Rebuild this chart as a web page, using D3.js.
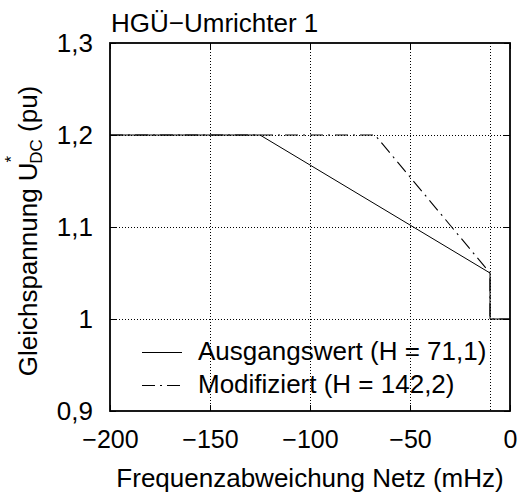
<!DOCTYPE html>
<html>
<head>
<meta charset="utf-8">
<script src="https://cdn.jsdelivr.net/npm/d3@7"></script>
<style>
  html, body { margin: 0; padding: 0; background: #fff; }
  text { font-family: "Liberation Sans", Arial, Helvetica, sans-serif; fill: #000; }
</style>
</head>
<body>
<svg id="chart" width="521" height="493"></svg>
<script>
// Frequency deviation (mHz) and DC voltage set point (pu) for both characteristics
const baseFreq = [-200, -125, -10, -10, 0];
const baseVolt = [1.2, 1.2, 1.05, 1.0, 1.0];
const modFreq = [-200, -67.5, -10, -10, 0];
const modVolt = [1.2, 1.2, 1.05, 1.0, 1.0];

const seriesNames = ["Ausgangswert (H = 71,1)", "Modifiziert (H = 142,2)"];

const xTickValues = [-200, -150, -100, -50, 0];
const xTickLabels = ["\u2212200", "\u2212150", "\u2212100", "\u221250", "0"];
const yTickValues = [0.9, 1.0, 1.1, 1.2, 1.3];
const yTickLabels = ["0,9", "1", "1,1", "1,2", "1,3"];
const xGridValues = [-150, -100, -50, -10];
const yGridValues = [1.0, 1.1, 1.2];

const svg = d3.select("#chart");
const plotL = 110, plotR = 510, plotT = 43, plotB = 411;

const x = d3.scaleLinear().domain([-200, 0]).range([plotL, plotR]);
const y = d3.scaleLinear().domain([0.9, 1.3]).range([plotB, plotT]);

const dashDot = "13,5,2,5";

// dotted grid
const grid = svg.append("g").attr("stroke", "#000").attr("stroke-width", 1)
  .attr("stroke-dasharray", "1,2");
grid.selectAll("line.vx").data(xGridValues).join("line").attr("class", "vx")
  .attr("x1", d => x(d) + 0.5).attr("x2", d => x(d) + 0.5)
  .attr("y1", plotT).attr("y2", plotB);
grid.selectAll("line.hy").data(yGridValues).join("line").attr("class", "hy")
  .attr("y1", d => Math.round(y(d)) + 0.5).attr("y2", d => Math.round(y(d)) + 0.5)
  .attr("x1", plotL).attr("x2", plotR);

// data lines
const line = d3.line().x(d => x(d[0])).y(d => y(d[1]));
const basePts = baseFreq.map((f, i) => [f, baseVolt[i]]);
const modPts = modFreq.map((f, i) => [f, modVolt[i]]);

svg.append("path").datum(basePts).attr("d", line)
  .attr("fill", "none").attr("stroke", "#000").attr("stroke-width", 1);
svg.append("path").datum(modPts).attr("d", line)
  .attr("fill", "none").attr("stroke", "#000").attr("stroke-width", 1.1)
  .attr("stroke-dasharray", dashDot);

// axes with inward ticks on all four sides
const fs = "26px";
const xAxisB = d3.axisBottom(x).tickValues(xTickValues)
  .tickFormat((d, i) => xTickLabels[i]).tickSizeInner(-6).tickSizeOuter(0).tickPadding(19);
const xAxisT = d3.axisTop(x).tickValues(xTickValues).tickFormat("").tickSizeInner(-6).tickSizeOuter(0);
const yAxisL = d3.axisLeft(y).tickValues(yTickValues)
  .tickFormat((d, i) => yTickLabels[i]).tickSizeInner(-6).tickSizeOuter(0).tickPadding(17);
const yAxisR = d3.axisRight(y).tickValues(yTickValues).tickFormat("").tickSizeInner(-6).tickSizeOuter(0);

function styleAxis(size) {
  return g => {
    g.select(".domain").remove();
    g.selectAll(".tick line").attr("stroke", "#000").attr("stroke-width", 1);
    g.selectAll(".tick text").style("font-size", size).attr("fill", "#000");
  };
}
svg.append("g").attr("transform", `translate(0,${plotB})`).call(xAxisB).call(styleAxis("25px"));
svg.append("g").attr("transform", `translate(0,${plotT})`).call(xAxisT).call(styleAxis("25px"));
svg.append("g").attr("transform", `translate(${plotL},0)`).call(yAxisL).call(styleAxis("26px"));
svg.append("g").attr("transform", `translate(${plotR},0)`).call(yAxisR).call(styleAxis("26px"));

// frame
svg.append("rect").attr("x", plotL).attr("y", plotT)
  .attr("width", plotR - plotL).attr("height", plotB - plotT)
  .attr("fill", "none").attr("stroke", "#000").attr("stroke-width", 1.8);

// title
svg.append("text").attr("x", plotL + 1).attr("y", 32)
  .style("font-size", fs).text("HG\u00dc\u2212Umrichter 1");

// x label
svg.append("text").attr("x", (plotL + plotR) / 2).attr("y", 487)
  .attr("text-anchor", "middle").style("font-size", fs)
  .text("Frequenzabweichung Netz (mHz)");

// y label with U*_DC
const yl = svg.append("text")
  .attr("transform", `translate(37,${(plotT + plotB) / 2 + 4}) rotate(-90)`)
  .attr("text-anchor", "middle").style("font-size", fs);
yl.append("tspan").text("Gleichspannung U");
yl.append("tspan").attr("dy", -20).style("font-size", "17px").text("*");
yl.append("tspan").attr("dx", -8).attr("dy", 25).style("font-size", "17px").text("DC");
yl.append("tspan").attr("dy", -5).text(" (pu)");

// legend
const legend = svg.append("g");
const legRows = [
  { name: seriesNames[0], dash: null, ly: 352 },
  { name: seriesNames[1], dash: dashDot, ly: 385 }
];
legRows.forEach(r => {
  legend.append("line").attr("x1", 142).attr("x2", 182)
    .attr("y1", r.ly + 0.5).attr("y2", r.ly + 0.5)
    .attr("stroke", "#000").attr("stroke-width", 1)
    .attr("stroke-dasharray", r.dash);
  legend.append("text").attr("x", 198).attr("y", r.ly + 8)
    .style("font-size", fs).text(r.name);
});
</script>
</body>
</html>
